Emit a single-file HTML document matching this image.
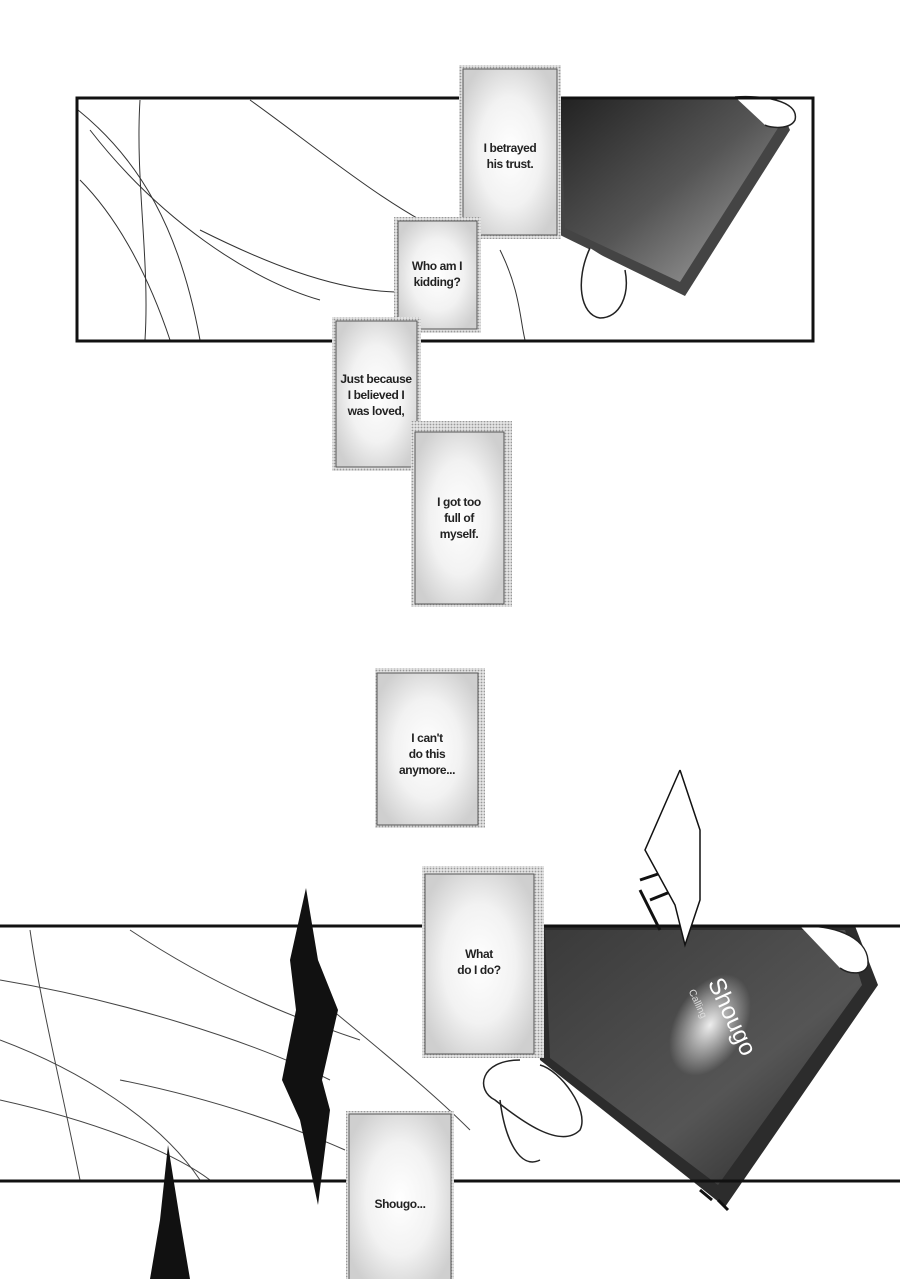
<!DOCTYPE html>
<html><head><meta charset="utf-8"><style>
html,body{margin:0;padding:0;background:#fff;width:900px;height:1279px;overflow:hidden}
svg{display:block}
text{font-family:"Liberation Sans",sans-serif;font-weight:bold;font-size:12px;letter-spacing:-0.4px;fill:#222;text-anchor:middle}
</style></head><body>
<svg width="900" height="1279" viewBox="0 0 900 1279" xmlns="http://www.w3.org/2000/svg">
<defs>
<pattern id="dots" width="3" height="3" patternUnits="userSpaceOnUse"><rect width="3" height="3" fill="#e4e4e4"/><circle cx="1.5" cy="1.5" r="0.9" fill="#999"/></pattern>
<radialGradient id="glow" cx="50%" cy="50%" r="60%"><stop offset="0" stop-color="#fff"/><stop offset="0.55" stop-color="#f2f2f2"/><stop offset="1" stop-color="#cfcfcf"/></radialGradient>
<linearGradient id="ph1" x1="0" y1="0" x2="1" y2="1"><stop offset="0" stop-color="#222"/><stop offset="0.5" stop-color="#555"/><stop offset="1" stop-color="#aaa"/></linearGradient>
<linearGradient id="ph2" x1="0" y1="0" x2="1" y2="1"><stop offset="0" stop-color="#3a3a3a"/><stop offset="0.6" stop-color="#555"/><stop offset="1" stop-color="#222"/></linearGradient>
<radialGradient id="sg" cx="50%" cy="50%" r="50%"><stop offset="0" stop-color="#fff" stop-opacity="0.9"/><stop offset="1" stop-color="#fff" stop-opacity="0"/></radialGradient>
</defs>

<g stroke="#333" stroke-width="1" fill="none">
<path d="M78,110 C140,160 180,230 200,340"/>
<path d="M140,100 C135,180 150,260 145,340"/>
<path d="M90,130 C160,220 250,280 320,300"/>
<path d="M250,100 C320,150 390,210 460,240"/>
<path d="M80,180 C120,220 150,280 170,340"/>
<path d="M200,230 C260,260 330,290 395,292"/>
<path d="M500,250 C520,290 520,320 525,340"/>
</g>
<polygon points="553,97 775,97 790,130 685,296 560,235" fill="#444"/>
<polygon points="560,99 760,99 778,128 680,282 565,228" fill="url(#ph1)"/>
<path d="M735,97 C760,95 800,100 795,120 C790,130 770,128 765,125" fill="#fff" stroke="#222" stroke-width="1.5"/>
<path d="M590,248 C575,280 580,315 600,318 C620,318 630,295 625,270" fill="#fff" stroke="#222" stroke-width="1.5"/>
<rect x="77" y="98" width="736" height="243" fill="none" stroke="#111" stroke-width="3"/>

<g stroke="#444" stroke-width="1" fill="none">
<path d="M0,980 C120,1000 250,1040 330,1080"/>
<path d="M30,930 C40,1000 60,1080 80,1180"/>
<path d="M0,1040 C80,1070 160,1120 200,1180"/>
<path d="M130,930 C220,990 300,1020 360,1040"/>
<path d="M0,1100 C90,1120 170,1150 210,1180"/>
<path d="M320,1000 C380,1050 430,1090 470,1130"/>
<path d="M120,1080 C220,1100 300,1130 345,1150"/>
</g>
<polygon points="533,926 855,926 878,985 725,1207 540,1060" fill="#2c2c2c"/>
<polygon points="545,930 845,930 862,985 718,1185 550,1058" fill="url(#ph2)"/>
<ellipse cx="710" cy="1025" rx="55" ry="35" fill="url(#sg)" transform="rotate(-60 710 1025)"/>
<text x="0" y="0" transform="translate(725,1020) rotate(65)" style="font-weight:normal;font-size:24px;letter-spacing:0;fill:#fff">Shougo</text>
<text x="0" y="0" transform="translate(695,1005) rotate(65)" style="font-weight:normal;font-size:10px;letter-spacing:0;fill:#ddd">Calling</text>
<path d="M800,926 C840,925 870,940 868,965 C865,975 850,975 840,968" fill="#fff" stroke="#222" stroke-width="1.5"/>
<path d="M520,1060 C480,1060 475,1090 495,1100 C520,1120 560,1150 580,1130 C590,1110 560,1070 540,1065" fill="#fff" stroke="#222" stroke-width="1.5"/>
<path d="M500,1100 C505,1140 520,1170 540,1160" fill="none" stroke="#222" stroke-width="1.5"/>
<line x1="0" y1="926" x2="900" y2="926" stroke="#111" stroke-width="3"/>
<line x1="0" y1="1181" x2="900" y2="1181" stroke="#111" stroke-width="3"/>

<polygon points="306,888 318,960 338,1010 322,1080 330,1110 318,1205 300,1120 282,1080 296,1010 290,960" fill="#111"/>
<polygon points="168,1145 180,1220 190,1279 150,1279 160,1220" fill="#111"/>
<g stroke="#111" stroke-width="3" fill="none">
<path d="M640,880 L670,870 M650,900 L700,880 M640,890 L660,930"/>
<path d="M680,770 L700,830 L700,900 L685,945 L675,905 L645,850 L680,770" fill="#fff" stroke-width="1.5"/>
<path d="M700,1190 L712,1200 M718,1200 L728,1210"/>
</g>

<g>
<rect x="459" y="65" width="102" height="174" fill="url(#dots)"/><rect x="463" y="69" width="94" height="166" fill="url(#glow)" stroke="#555"/>
<text x="510" y="152">I betrayed</text><text x="510" y="168">his trust.</text>
<rect x="394" y="217" width="87" height="116" fill="url(#dots)"/><rect x="398" y="221" width="79" height="108" fill="url(#glow)" stroke="#555"/>
<text x="437" y="270">Who am I</text><text x="437" y="286">kidding?</text>
<rect x="332" y="317" width="89" height="154" fill="url(#dots)"/><rect x="336" y="321" width="81" height="146" fill="url(#glow)" stroke="#555"/>
<text x="376" y="383">Just because</text><text x="376" y="399">I believed I</text><text x="376" y="415">was loved,</text>
<rect x="411" y="421" width="101" height="186" fill="url(#dots)"/><rect x="415" y="432" width="89" height="172" fill="url(#glow)" stroke="#555"/>
<text x="459" y="506">I got too</text><text x="459" y="522">full of</text><text x="459" y="538">myself.</text>
<rect x="375" y="668" width="110" height="160" fill="url(#dots)"/><rect x="377" y="673" width="101" height="152" fill="url(#glow)" stroke="#555"/>
<text x="427" y="742">I can't</text><text x="427" y="758">do this</text><text x="427" y="774">anymore...</text>
<rect x="422" y="866" width="122" height="192" fill="url(#dots)"/><rect x="425" y="874" width="109" height="180" fill="url(#glow)" stroke="#555"/>
<text x="479" y="958">What</text><text x="479" y="974">do I do?</text>
<rect x="346" y="1111" width="108" height="168" fill="url(#dots)"/><rect x="349" y="1114" width="102" height="170" fill="url(#glow)" stroke="#555"/>
<text x="400" y="1208">Shougo...</text>
</g>
</svg>
</body></html>
